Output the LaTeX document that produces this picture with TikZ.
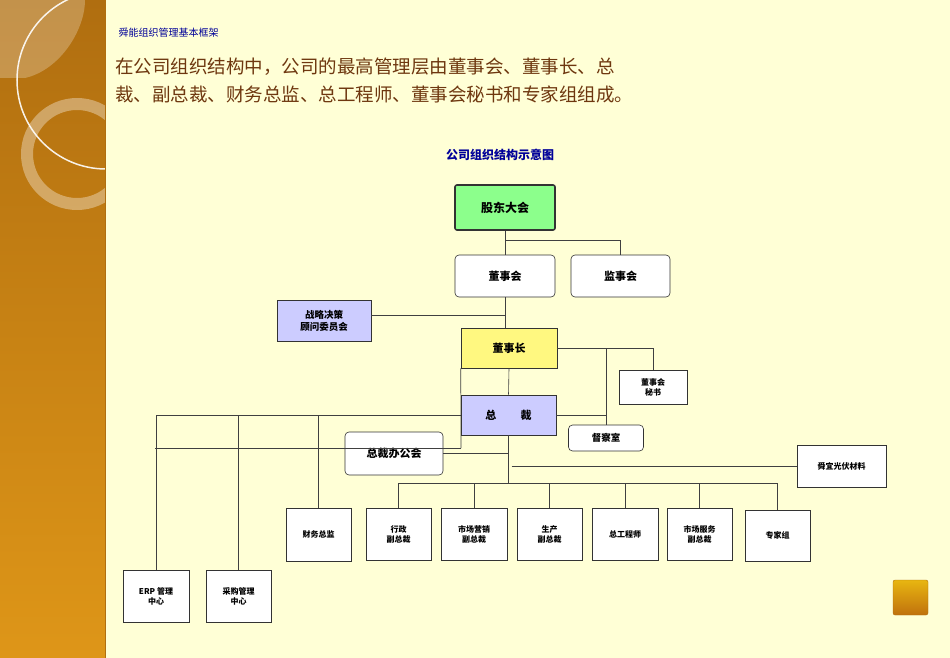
\documentclass[tikz,border=0pt]{standalone}
\usepackage{fontspec}
\setmainfont{Noto Sans CJK SC}
\definecolor{pdark}{RGB}{176,110,16}
\definecolor{plight}{RGB}{222,150,24}
\definecolor{cream}{RGB}{255,255,214}
\definecolor{txtbrown}{RGB}{110,55,15}
\begin{document}
\begin{tikzpicture}[x=1pt,y=-1pt,
  bx/.style={draw=black!80,line width=0.6pt,fill=white,inner sep=0pt,align=center,font=\fontsize{8}{10}\selectfont\bfseries},
  rb/.style={bx,rounded corners=4pt,font=\fontsize{11}{13}\selectfont\bfseries},
  ln/.style={draw=black!75,line width=0.6pt}]
\useasboundingbox (0,0) rectangle (950,658);
\fill[cream] (0,0) rectangle (950,658);
\shade[top color=pdark,bottom color=plight] (0,0) rectangle (105,658);
\begin{scope}
\clip (0,0) rectangle (105,658);
\fill[white,opacity=0.25] (0,0) -- (0,78) -- (25,78) .. controls (60,70) and (85,30) .. (85,0) -- cycle;
\draw[white,opacity=0.9,line width=1.5pt] (106,80) circle (89);
\draw[white,opacity=0.35,line width=12pt] (77,154) circle (50);
\end{scope}
\draw[pdark,line width=0.5pt] (105,0) -- (105,658);
\shade[top color=plight!70!yellow,bottom color=pdark!80!orange,draw=pdark,rounded corners=2pt] (893,580) rectangle (928,615);
\node[anchor=west,text=blue!60!black,font=\fontsize{10}{12}\selectfont] (hdr) at (115,33) {舜能组织管理基本框架};
\node[anchor=north west,text=txtbrown,font=\fontsize{18.5}{28}\selectfont,align=left,inner sep=0pt] (intro) at (115,58) {在公司组织结构中，公司的最高管理层由董事会、董事长、总\\裁、副总裁、财务总监、总工程师、董事会秘书和专家组组成。};
\node[text=blue!60!black,font=\fontsize{12}{14}\selectfont\bfseries] (ttl) at (500,155) {公司组织结构示意图};
% nodes
\node[bx,fill=green!45,line width=1.6pt,rounded corners=2pt,minimum width=100pt,minimum height=45pt,font=\fontsize{12}{14}\selectfont\bfseries] (gd) at (505,207.5) {股东大会};
\node[rb,minimum width=100pt,minimum height=42pt] (dsh) at (505,276) {董事会};
\node[rb,minimum width=99pt,minimum height=42pt] (jsh) at (620.5,276) {监事会};
\node[bx,fill=blue!20,minimum width=94pt,minimum height=41pt,font=\fontsize{9.5}{12}\selectfont\bfseries] (zl) at (324,320.5) {战略决策\\顾问委员会};
\node[bx,fill=yellow!50,minimum width=96pt,minimum height=40pt,font=\fontsize{11}{13}\selectfont\bfseries] (dsz) at (509,348) {董事长};
\node[bx,minimum width=68pt,minimum height=34pt] (ms) at (653,387) {董事会\\秘书};
\node[bx,fill=blue!20,minimum width=95pt,minimum height=40pt,font=\fontsize{11}{13}\selectfont\bfseries] (zc) at (508.5,415) {总\hspace{2.2em}裁};
\node[rb,minimum width=75pt,minimum height=26pt,font=\fontsize{9.5}{12}\selectfont\bfseries] (dc) at (606,438) {督察室};
\node[rb,minimum width=98pt,minimum height=43pt] (bg) at (394,453.5) {总裁办公会};
\node[bx,minimum width=89pt,minimum height=42pt] (sy) at (841.5,466) {舜宜光伏材料};
\node[bx,minimum width=65pt,minimum height=53pt] (cw) at (318.5,534.5) {财务总监};
\node[bx,minimum width=65pt,minimum height=52pt] (xz) at (398.5,534) {行政\\副总裁};
\node[bx,minimum width=66pt,minimum height=52pt] (sc) at (474,534) {市场营销\\副总裁};
\node[bx,minimum width=65pt,minimum height=52pt] (scn) at (549.5,534) {生产\\副总裁};
\node[bx,minimum width=66pt,minimum height=52pt] (zg) at (625,534) {总工程师};
\node[bx,minimum width=65pt,minimum height=52pt] (fw) at (699.5,534) {市场服务\\副总裁};
\node[bx,minimum width=65pt,minimum height=51pt] (zj) at (777.5,535.5) {专家组};
\node[bx,minimum width=66pt,minimum height=52pt] (erp) at (156,596) {ERP 管理\\中心};
\node[bx,minimum width=65pt,minimum height=52pt] (cg) at (238.5,596) {采购管理\\中心};
% connectors
\draw[ln] (gd.south) -- (505,240) coordinate (t1);
\draw[ln] (t1) -- (dsh.north);
\draw[ln] (t1) -| (jsh.north);
\draw[ln] (dsh.south) -- (505,328);
\coordinate (j1) at (505,315);
\draw[ln] (zl.east |- j1) -- (j1);
\draw[ln] (dsz.south) -- (zc.north);
\draw[ln] (dsz.east) -| (ms.north);
\coordinate (j2) at (606,348);
\draw[ln] (j2) -- (dc.north);
\draw[ln] (zc.east) -- (zc.east -| j2);
\draw[ln] (dsz.south west) -- (461,448) coordinate (t3);
\draw[ln] (t3) -- (155,448);
\draw[ln] (zc.west) -| (erp.north);
\draw[ln] (zc.west -| cg.north) -- (cg.north);
\draw[ln] (zc.west -| cw.north) -- (cw.north);
\coordinate (bus) at (508.5,483);
\draw[ln] (zc.south) -- (bus);
\draw[ln] (bg.east) -- (bg.east -| bus);
\draw[ln] (sy.west -| bus) ++(3,0) -- (sy.west);
\draw[ln] (xz.north) |- (bus -| zj.north) -- (zj.north);
\draw[ln] (sc.north) -- (sc.north |- bus);
\draw[ln] (scn.north) -- (scn.north |- bus);
\draw[ln] (zg.north) -- (zg.north |- bus);
\draw[ln] (fw.north) -- (fw.north |- bus);
\end{tikzpicture}
\end{document}
